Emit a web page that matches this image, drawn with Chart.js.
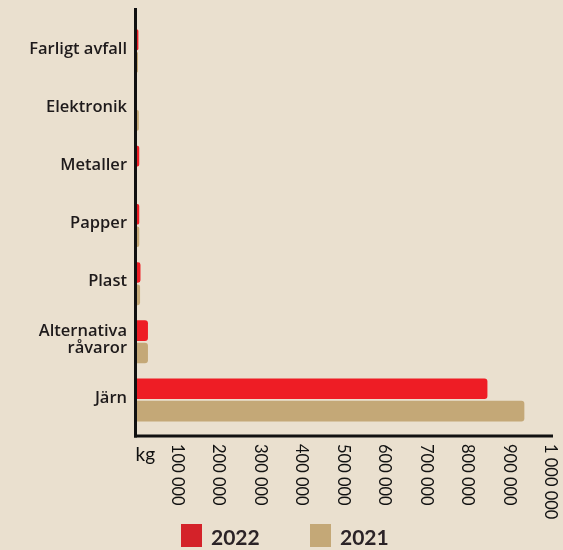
<!DOCTYPE html>
<html>
<head>
<meta charset="utf-8">
<script src="https://cdn.jsdelivr.net/npm/chart.js@4/dist/chart.umd.min.js"></script>
<style>
html,body{margin:0;padding:0;background:#EAE0CF;}
#wrap{width:563px;height:550px;position:relative;}
</style>
</head>
<body>
<div id="wrap"><canvas id="c" width="563" height="550"></canvas></div>
<script>
const categories = ["Farligt avfall", "Elektronik", "Metaller", "Papper", "Plast", ["Alternativa", "råvaror"], "Järn"];
const values2022 = [7000, 0, 9000, 9000, 12000, 30000, 848000];
const values2021 = [6000, 8000, 0, 9000, 11000, 30000, 937000];
const seriesNames = ["2022", "2021"];
const tickValues = [100000, 200000, 300000, 400000, 500000, 600000, 700000, 800000, 900000, 1000000];
const tickLabels = ["100 000", "200 000", "300 000", "400 000", "500 000", "600 000", "700 000", "800 000", "900 000", "1 000 000"];
const unitLabel = "kg";

const BG = "#EAE0CF";
const RED = "#EE1D25";
const TAN = "#C4A877";
const LEG_RED = "#D42229";
const TEXT = "#1E1A1B";

const decor = {
  id: "decor",
  beforeDraw(chart) {
    const ctx = chart.ctx;
    ctx.save();
    ctx.fillStyle = BG;
    ctx.fillRect(0, 0, chart.width, chart.height);
    ctx.restore();
  },
  afterDraw(chart) {
    const ctx = chart.ctx;
    const xs = chart.scales.x, ys = chart.scales.y;
    ctx.save();
    // axis lines
    ctx.strokeStyle = "#111";
    ctx.lineWidth = 3;
    const x0 = xs.getPixelForValue(0);
    ctx.beginPath();
    ctx.moveTo(x0, 8);
    ctx.lineTo(x0, 437.5);
    ctx.stroke();
    ctx.beginPath();
    ctx.moveTo(x0 - 1.5, 436);
    ctx.lineTo(553, 436);
    ctx.stroke();
    // category labels
    ctx.fillStyle = TEXT;
    ctx.font = "600 16.5px 'Open Sans'";
    ctx.textAlign = "right";
    ctx.textBaseline = "middle";
    categories.forEach((c, i) => {
      const y = ys.getPixelForValue(i);
      const lines = Array.isArray(c) ? c : [c];
      const lh = 16.5;
      lines.forEach((ln, j) => {
        ctx.fillText(ln, 127, y - 2 + (j - (lines.length - 1) / 2) * lh);
      });
    });
    // tick labels rotated clockwise
    ctx.fillStyle = "#111";
    ctx.font = "16.5px Lato";
    ctx.textAlign = "left";
    ctx.textBaseline = "middle";
    tickValues.forEach((v, i) => {
      const x = xs.getPixelForValue(v);
      ctx.save();
      ctx.translate(x, 444);
      ctx.rotate(Math.PI / 2);
      ctx.fillText(tickLabels[i], 0, 0);
      ctx.restore();
    });
    // unit
    ctx.font = "19px Lato";
    ctx.textBaseline = "alphabetic";
    ctx.fillText(unitLabel, x0, 461);
    // legend
    const legendItems = [[LEG_RED, seriesNames[0], 181], [TAN, seriesNames[1], 310]];
    ctx.font = "bold 21px Lato";
    legendItems.forEach(([col, name, lx]) => {
      ctx.fillStyle = col;
      ctx.fillRect(lx, 524, 21, 23);
      ctx.fillStyle = "#2B2327";
      ctx.fillText(name, lx + 30, 545);
    });
    ctx.restore();
  }
};

new Chart(document.getElementById("c"), {
  type: "bar",
  data: {
    labels: categories,
    datasets: [
      { label: seriesNames[0], data: values2022, backgroundColor: RED, borderRadius: 3, borderSkipped: "start", categoryPercentage: 0.77, barPercentage: 0.92 },
      { label: seriesNames[1], data: values2021, backgroundColor: TAN, borderRadius: 3, borderSkipped: "start", categoryPercentage: 0.77, barPercentage: 0.92 }
    ]
  },
  options: {
    indexAxis: "y",
    responsive: false,
    animation: false,
    layout: { padding: { left: 135.5, right: 12.5, top: 22, bottom: 121 } },
    plugins: { legend: { display: false }, tooltip: { enabled: false } },
    scales: {
      x: { display: false, min: 0, max: 1000000 },
      y: { display: false, offset: true }
    }
  },
  plugins: [decor]
});
</script>
</body>
</html>
